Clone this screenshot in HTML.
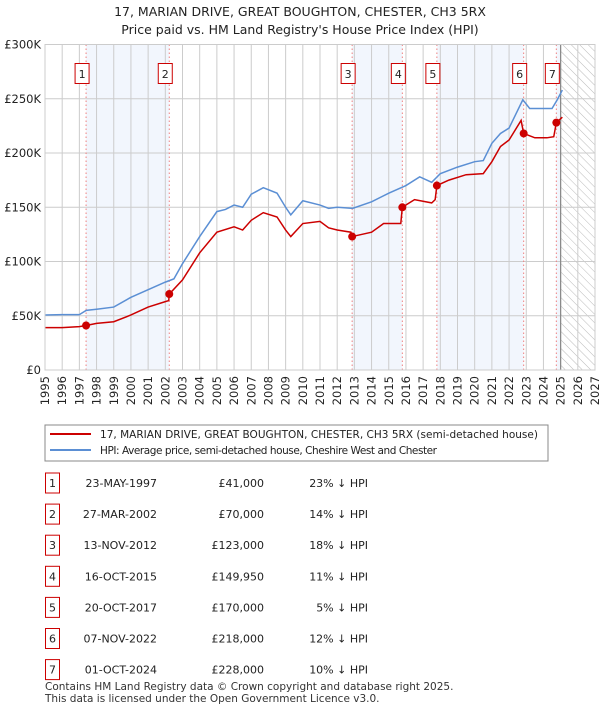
<!DOCTYPE html>
<html><head><meta charset="utf-8"><style>
body{margin:0;background:#fff}
svg{display:block;font-family:"DejaVu Sans","Liberation Sans",sans-serif}
</style></head><body>
<svg id="c" width="600" height="710" viewBox="0 0 600 710" xmlns="http://www.w3.org/2000/svg">
<defs><pattern id="hatch" width="6" height="6" patternUnits="userSpaceOnUse" patternTransform="rotate(-45)"><line x1="0" y1="0" x2="0" y2="6" stroke="#bbb" stroke-width="1"/></pattern></defs>
<text x="300" y="16" text-anchor="middle" font-size="12.5" fill="#222">17, MARIAN DRIVE, GREAT BOUGHTON, CHESTER, CH3 5RX</text>
<text x="300" y="34" text-anchor="middle" font-size="12.5" fill="#222">Price paid vs. HM Land Registry's House Price Index (HPI)</text>
<g id="plot"></g>
<rect x="45" y="425" width="503" height="36" fill="#fff" stroke="#888"/>
<line x1="50" y1="434" x2="91" y2="434" stroke="#cc0000" stroke-width="2"/>
<text x="100" y="438" font-size="10.5" textLength="438" fill="#222">17, MARIAN DRIVE, GREAT BOUGHTON, CHESTER, CH3 5RX (semi-detached house)</text>
<line x1="50" y1="450" x2="91" y2="450" stroke="#5b8fd4" stroke-width="2"/>
<text x="100" y="454" font-size="10.5" textLength="337" fill="#222">HPI: Average price, semi-detached house, Cheshire West and Chester</text>
<g id="table"></g>
<text x="45" y="690" font-size="10.5" fill="#333">Contains HM Land Registry data © Crown copyright and database right 2025.</text>
<text x="45" y="702" font-size="10.5" fill="#333">This data is licensed under the Open Government Licence v3.0.</text>
</svg>
<script>
const hpiYears=[1995,1996,1997,1997.4,1998,1999,2000,2001,2002,2002.5,2003,2004,2005,2005.5,2006,2006.5,2007,2007.7,2008.5,2009,2009.3,2010,2011,2011.5,2012,2012.9,2014,2015,2016,2016.8,2017.5,2018,2019,2020,2020.5,2021,2021.5,2022,2022.8,2023.2,2024,2024.5,2024.8,2025.1];
const hpiValues=[50.7,51,51,55,56,58,67,74,81,84,98,123,146,148,152,150,162,168,163,150,143,156,152,149,150,149,155,163,170,178,173,181,187,192,193,209,218,223,249,241,241,241,249,258];
const ppYears=[1995,1996,1997,1997.39,1998,1999,2000,2001,2002,2002.2,2002.23,2003,2004,2005,2006,2006.5,2007,2007.7,2008.5,2009,2009.3,2010,2011,2011.5,2012,2012.8,2012.87,2014,2014.7,2015.7,2015.79,2016.5,2017.5,2017.7,2017.8,2018.5,2019.5,2020.5,2021,2021.5,2022,2022.7,2022.85,2023.5,2024.2,2024.6,2024.75,2025.1];
const ppValues=[39,39,40,41,43,44.5,50.7,58,63,64,70,83,108,127,132,129,138,145,141,129,123,135,137,131,129,127,123,127,135,135,150,157,154,157,170,175,180,181,192,206,212,230,218,214,214,215,228,233];
const saleLabels=["1","2","3","4","5","6","7"];
const saleYears=[1997.39,2002.23,2012.87,2015.79,2017.8,2022.85,2024.75];
const saleValues=[41,70,123,149.95,170,218,228];
const saleDates=["23-MAY-1997","27-MAR-2002","13-NOV-2012","16-OCT-2015","20-OCT-2017","07-NOV-2022","01-OCT-2024"];
const salePrices=["£41,000","£70,000","£123,000","£149,950","£170,000","£218,000","£228,000"];
const saleHpi=["23% ↓ HPI","14% ↓ HPI","18% ↓ HPI","11% ↓ HPI","5% ↓ HPI","12% ↓ HPI","10% ↓ HPI"];
const yTicks=[0,50,100,150,200,250,300];
const yTickLabels=["£0","£50K","£100K","£150K","£200K","£250K","£300K"];
const xTicks=[1995,1996,1997,1998,1999,2000,2001,2002,2003,2004,2005,2006,2007,2008,2009,2010,2011,2012,2013,2014,2015,2016,2017,2018,2019,2020,2021,2022,2023,2024,2025,2026,2027];

const L=45,R=595,T=44.5,B=370,X0=1995,X1=2027,YMAX=300;
const sx=v=>L+(v-X0)/(X1-X0)*(R-L);
const sy=v=>B-v/YMAX*(B-T);
const NS="http://www.w3.org/2000/svg";
function mk(tag,attrs,parent){const e=document.createElementNS(NS,tag);for(const k in attrs)e.setAttribute(k,attrs[k]);parent.appendChild(e);return e;}
const plot=document.getElementById('plot');
let e;
e=mk('rect',{x:L,y:T,width:R-L,height:B-T,fill:'#fff'},plot);


const bands=[[0,1],[2,3],[4,5],[6,null]];
bands.forEach((b,i)=>{
  const a=sx(saleYears[b[0]]),z=b[1]===null?sx(2025):sx(saleYears[b[1]]);
  e=mk('rect',{x:a,y:T,width:z-a,height:B-T,fill:'#f2f6fd'},plot);
  
  
});
e=mk('rect',{x:sx(2025),y:T,width:R-sx(2025),height:B-T,fill:'url(#hatch)'},plot);


xTicks.forEach(t=>{
  e=mk('line',{x1:sx(t),x2:sx(t),y1:T,y2:B,stroke:'#ccc','stroke-width':1},plot);
  
  
  const tx=sx(t)+4;
  e=mk('text',{x:tx,y:376,'font-size':11.5,fill:'#222','text-anchor':'end',transform:`rotate(-90 ${tx} 376)`},plot);
  e.textContent=t;
  
  
});
yTicks.forEach((t,i)=>{
  e=mk('line',{x1:L,x2:R,y1:sy(t),y2:sy(t),stroke:'#ccc','stroke-width':1},plot);
  
  
  e=mk('text',{x:L-4,y:sy(t)+4,'font-size':11.5,fill:'#222','text-anchor':'end'},plot);
  e.textContent=yTickLabels[i];
  
  
});
e=mk('line',{x1:sx(2025),x2:sx(2025),y1:T,y2:B,stroke:'#888','stroke-width':1.2},plot);


saleYears.forEach((y,i)=>{
  e=mk('line',{x1:sx(y),x2:sx(y),y1:T,y2:B,stroke:'#ee8080','stroke-width':1,'stroke-dasharray':'1.5,2.5'},plot);
  
  
  const bx=sx(y)-11;
  e=mk('rect',{x:bx,y:63.5,width:14,height:20,fill:'#fff',stroke:'#cc0000'},plot);
  
  
  e=mk('text',{x:bx+7,y:78,'font-size':11,fill:'#222','text-anchor':'middle'},plot);
  e.textContent=saleLabels[i];
  
  
});
e=mk('polyline',{points:hpiYears.map((y,i)=>sx(y)+','+sy(hpiValues[i])).join(' '),fill:'none',stroke:'#5b8fd4','stroke-width':1.5},plot);


e=mk('polyline',{points:ppYears.map((y,i)=>sx(y)+','+sy(ppValues[i])).join(' '),fill:'none',stroke:'#cc0000','stroke-width':1.5},plot);


saleYears.forEach((y,i)=>{
  e=mk('circle',{cx:sx(y),cy:sy(saleValues[i]),r:4,fill:'#cc0000'},plot);
  
  
});
e=mk('rect',{x:L,y:T,width:R-L,height:B-T,fill:'none',stroke:'#ccc'},plot);


const tb=document.getElementById('table');
saleLabels.forEach((l,i)=>{
  const cy=483+i*31.1;
  e=mk('rect',{x:45.5,y:cy-10,width:14,height:20,fill:'#fff',stroke:'#cc0000'},tb);
  
  
  e=mk('text',{x:52.5,y:cy+4,'font-size':11,fill:'#222','text-anchor':'middle'},tb);
  e.textContent=l;
  
  
  e=mk('text',{x:157,y:cy+4,'font-size':11,fill:'#222','text-anchor':'end'},tb);
  e.textContent=saleDates[i];
  
  
  e=mk('text',{x:264,y:cy+4,'font-size':11,fill:'#222','text-anchor':'end'},tb);
  e.textContent=salePrices[i];
  
  
  e=mk('text',{x:368,y:cy+4,'font-size':11,fill:'#222','text-anchor':'end'},tb);
  e.textContent=saleHpi[i];
  
  
});
</script>
</body></html>
